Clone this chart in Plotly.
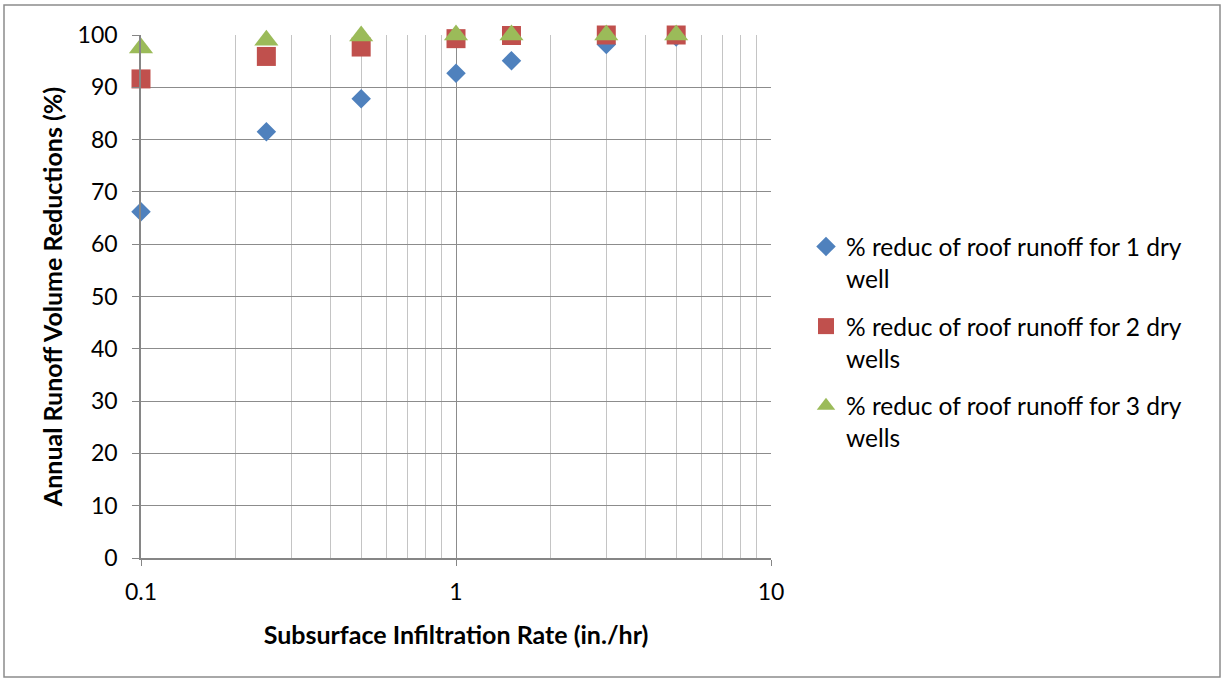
import plotly.graph_objects as go

rates = [0.1, 0.25, 0.5, 1, 1.5, 3, 5]
one_well = [66.2, 81.5, 87.8, 92.7, 95.1, 98.2, 99.6]
two_wells = [91.6, 95.9, 97.7, 99.3, 99.9, 100, 100]
three_wells = [97.5, 99.0, 99.8, 100, 100, 100, 100]

names = ["% reduc of roof runoff for 1 dry<br>well",
         "% reduc of roof runoff for 2 dry<br>wells",
         "% reduc of roof runoff for 3 dry<br>wells"]
series = [one_well, two_wells, three_wells]
colors = ["#4F81BD", "#C0504D", "#9BBB59"]
symbols = ["diamond", "square", "triangle-up"]
sizes = [15, 19, 21]

FONT = "Lato"
W, H = 1225, 679
L, R, T, B = 141, 771, 35, 558

fig = go.Figure()
for i, (ys, nm, c, s, sz) in enumerate(zip(series, names, colors, symbols, sizes)):
    fig.add_trace(go.Scatter(x=rates, y=ys, mode="markers", name=nm,
                             legendgroup=f"g{i}", cliponaxis=False,
                             marker=dict(symbol=s, color=c, size=sz,
                                         line=dict(width=0))))

minor_vals = [v * m for m in (0.1, 1) for v in range(2, 10)]

fig.update_layout(
    width=W, height=H,
    margin=dict(l=L, r=W - R, t=T, b=H - B),
    paper_bgcolor="white", plot_bgcolor="white",
    font=dict(family=FONT, size=23, color="#000000"),
    showlegend=True,
    legend=dict(x=(806 - L) / (R - L), y=(B - 224) / (B - T),
                xanchor="left", yanchor="top", valign="top",
                font=dict(family=FONT, size=24.5, color="#000000"),
                tracegroupgap=13, itemsizing="trace",
                bgcolor="rgba(0,0,0,0)"),
    xaxis=dict(type="log", range=[-1, 1],
               tickvals=[0.1, 1, 10], ticktext=["0.1", "1", "10"],
               showgrid=True, gridcolor="#8C8C8C", gridwidth=1,
               minor=dict(tickvals=minor_vals, showgrid=True,
                          gridcolor="#C4C4C4", gridwidth=1, ticklen=0),
               ticks="outside", ticklen=6, tickcolor="#868686",
               showline=True, linecolor="#868686", linewidth=1.5,
               zeroline=False,
               tickfont=dict(family=FONT, size=23),
               ticklabelstandoff=7,
               title=dict(text="<b>Subsurface Infiltration Rate (in./hr)</b>",
                          font=dict(family=FONT, size=25), standoff=22)),
    yaxis=dict(range=[0, 100], dtick=10,
               showgrid=True, gridcolor="#8C8C8C", gridwidth=1,
               ticks="outside", ticklen=7, tickcolor="#868686",
               showline=True, linecolor="#868686", linewidth=1.5,
               zeroline=False,
               tickfont=dict(family=FONT, size=23),
               ticklabelstandoff=10,
               title=dict(text="<b>Annual Runoff Volume Reductions (%)</b>",
                          font=dict(family=FONT, size=25), standoff=8)),
)

# outer chart frame
x0 = (4 - L) / (R - L)
x1 = (1220 - L) / (R - L)
y1 = (B - 5) / (B - T)
y0 = (B - 677) / (B - T)
fig.add_shape(type="rect", xref="paper", yref="paper", x0=x0, x1=x1, y0=y0, y1=y1,
              line=dict(color="#8C8C8C", width=1.5), layer="below")

fig.write_html("out.html",
               config={"displayModeBar": False},
               post_script="document.body.style.margin='0';document.body.style.overflow='hidden';")
